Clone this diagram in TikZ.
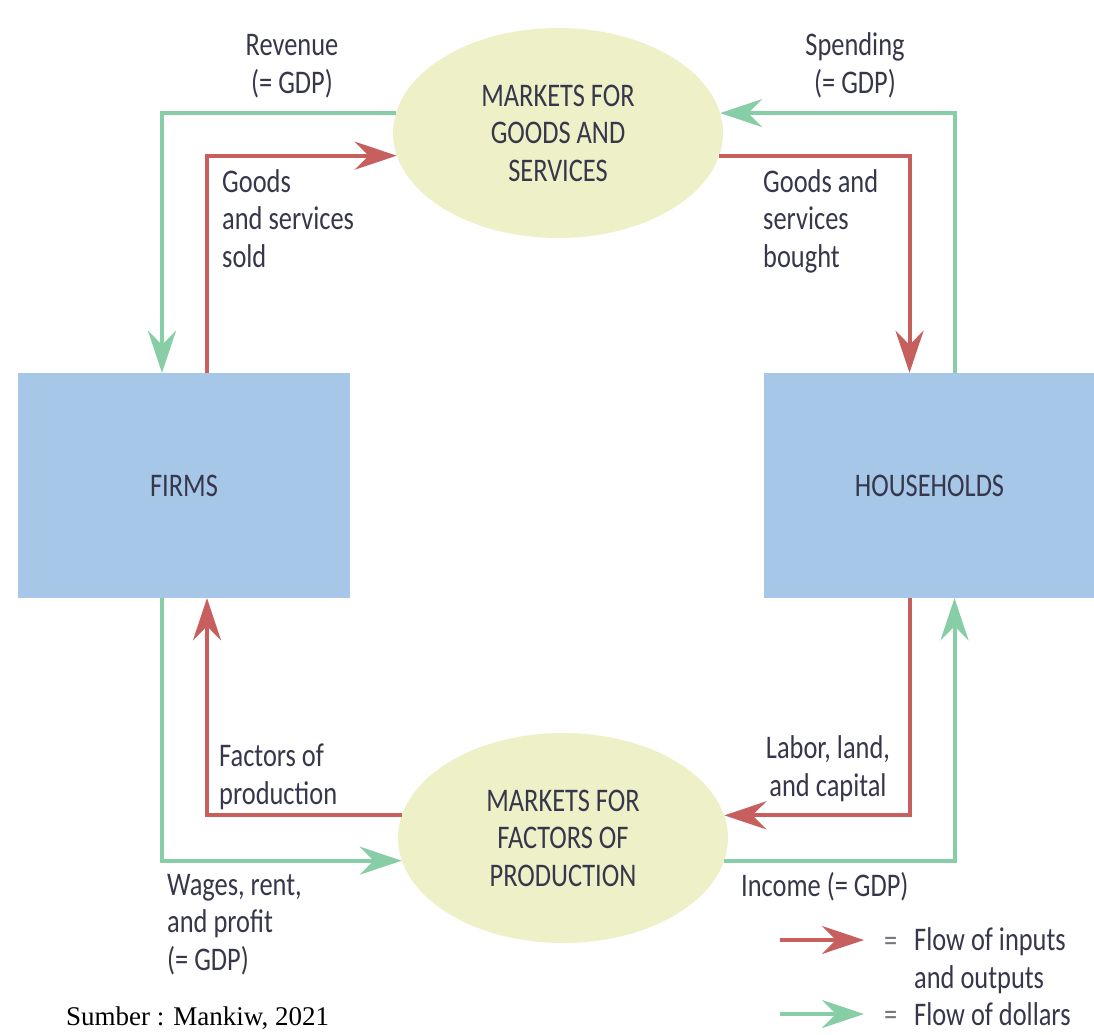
\documentclass[tikz,border=0pt]{standalone}
\usepackage{fontspec}
\setmainfont[FakeStretch=0.8]{Carlito}
\newfontfamily\srcfont{Liberation Serif}
\usepackage{tikz}
\usetikzlibrary{shapes.geometric,arrows.meta,positioning,calc}
\definecolor{boxblue}{RGB}{166,199,232}
\definecolor{marketfill}{RGB}{238,240,200}
\definecolor{flowred}{RGB}{200,95,95}
\definecolor{dollargreen}{RGB}{135,205,165}
\definecolor{labelink}{RGB}{55,55,75}
\definecolor{equalgray}{RGB}{120,120,130}

\begin{document}
\begin{tikzpicture}[x=1pt, y=-1pt,
sector/.style={rectangle, fill=boxblue, minimum width=332pt, minimum height=225pt,
inner sep=0pt, text=labelink, font=\fontsize{33}{37}\selectfont},
market/.style={ellipse, fill=marketfill, minimum width=330pt, minimum height=210pt,
inner sep=0pt, align=center, text=labelink, font=\fontsize{33}{37.5}\selectfont},
lbl/.style={inner sep=0pt, text=labelink, font=\fontsize{33}{37.5}\selectfont},
flow/.style={-{Stealth[length=42pt, width=28pt, inset=14pt]}, line width=4pt, draw=flowred},
dollar/.style={-{Stealth[length=42pt, width=28pt, inset=14pt]}, line width=4pt, draw=dollargreen}
]
\useasboundingbox (0,0) rectangle (1094,1034);

\node[sector] (firms) at (184,485.5) {FIRMS};
\node[sector] (households) at (929.5,485.5) {HOUSEHOLDS};

\node[market] (goods) at (558,133) {MARKETS FOR\\GOODS AND\\SERVICES};
\node[market] (factors) at (563,838) {MARKETS FOR\\FACTORS OF\\PRODUCTION};

% dollars
\draw[dollar] (goods.173) -| ([xshift=-22pt]firms.north);
\draw[dollar] ([xshift=25pt]households.north) |- (goods.7);
\draw[dollar] ([xshift=-22pt]firms.south) |- (factors.188);
\draw[dollar] (factors.352) -| ([xshift=25pt]households.south);

% inputs and outputs
\draw[flow] ([xshift=23pt]firms.north) |- (goods.188);
\draw[flow] (goods.352) -| ([xshift=-20pt]households.north);
\draw[flow] (factors.172) -| ([xshift=23pt]firms.south);
\draw[flow] ([xshift=-20pt]households.south) |- (factors.8);

% labels (anchored on the last line)
\node[lbl, align=center, anchor=base] (revenue) at (292,93) {Revenue\\(= GDP)};
\node[lbl, align=center, anchor=base] (spending) at (855,93) {Spending\\(= GDP)};
\node[lbl, align=left, anchor=base west] (sold) at (222,267) {Goods\\and services\\sold};
\node[lbl, align=left, anchor=base west] (bought) at (763,267) {Goods and\\services\\bought};
\node[lbl, align=left, anchor=base west] (fop) at (219,804) {Factors of\\production};
\node[lbl, align=center, anchor=base] (labor) at (828,796) {Labor, land,\\and capital};
\node[lbl, align=left, anchor=base west] (wages) at (167,970) {Wages, rent,\\and profit\\(= GDP)};
\node[lbl, anchor=base west] (income) at (741,896) {Income (= GDP)};

% legend
\coordinate (redfrom) at (780,940);
\coordinate (redto) at (864,940);
\coordinate (greenfrom) at (780,1014);
\coordinate (greento) at (864,1014);
\draw[flow] (redfrom) -- (redto);
\draw[dollar] (greenfrom) -- (greento);
\node[lbl, anchor=base west, text=equalgray] (eqred) at (884,951) {=};
\node[lbl, align=left, anchor=base west] (keyred) at (914,988) {Flow of inputs\\and outputs};
\node[lbl, anchor=base west, text=equalgray] (eqgreen) at (884,1025) {=};
\node[lbl, anchor=base west] (keygreen) at (914,1025) {Flow of dollars};

\node[inner sep=0pt, anchor=base west, font=\srcfont\fontsize{27}{30}\selectfont] (source) at (66,1025) {Sumber : Mankiw, 2021};
\end{tikzpicture}
\end{document}
